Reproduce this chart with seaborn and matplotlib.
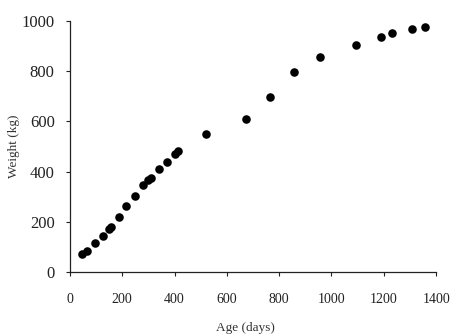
import matplotlib
matplotlib.use("Agg")
import matplotlib.pyplot as plt
import seaborn as sns
import pandas as pd

age_days = [47, 64, 95, 125, 149, 156, 186, 216, 248, 278, 300, 310, 339, 371, 402, 412,
            520, 673, 765, 857, 956, 1095, 1188, 1231, 1309, 1356]
weight_kg = [73, 84, 114, 143, 171, 178, 219, 263, 304, 345, 366, 375, 411, 438, 468, 480,
             548, 609, 698, 798, 858, 906, 938, 954, 970, 977]
x_ticks = [0, 200, 400, 600, 800, 1000, 1200, 1400]
y_ticks = [0, 200, 400, 600, 800, 1000]

df = pd.DataFrame({"Age (days)": age_days, "Weight (kg)": weight_kg})

sns.set_theme(style="ticks")
plt.rcParams['font.family'] = ['Liberation Serif', 'DejaVu Serif']

fig = plt.figure(figsize=(4.51, 3.34), dpi=100)
ax = fig.add_axes([0.155, 0.186, 0.812, 0.751])
sns.scatterplot(data=df, x="Age (days)", y="Weight (kg)", ax=ax, color="black",
                s=38, edgecolor="black", linewidth=0, clip_on=False)
ax.set_xlim(0, 1400)
ax.set_ylim(0, 1000)
ax.set_xticks(x_ticks)
ax.set_yticks(y_ticks)
ax.tick_params(axis="x", direction="out", length=3, width=0.8, pad=12, labelsize=10, colors="#222222")
ax.tick_params(axis="y", direction="out", length=3, width=0.8, pad=8, labelsize=12, colors="#222222")
for s in ["top", "right"]:
    ax.spines[s].set_visible(False)
for s in ["left", "bottom"]:
    ax.spines[s].set_color("#222222")
    ax.spines[s].set_linewidth(0.9)
ax.set_xlabel("Age (days)", fontsize=9.5, color="#333333")
ax.set_ylabel("Weight (kg)", fontsize=9.5, color="#333333")
ax.xaxis.set_label_coords(0.48, -0.2)
ax.yaxis.set_label_coords(-0.135, 0.5)

fig.savefig("out.png", dpi=100)
